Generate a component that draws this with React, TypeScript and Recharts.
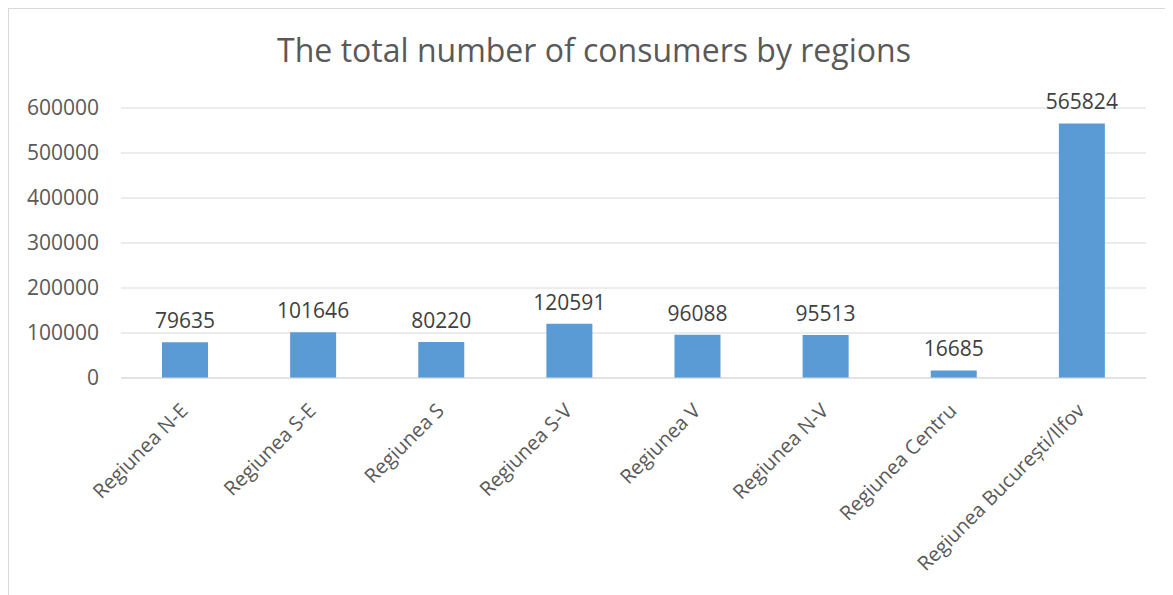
import { BarChart, Bar, XAxis, YAxis, CartesianGrid, LabelList } from 'recharts';

const regions = [
  'Regiunea N-E',
  'Regiunea S-E',
  'Regiunea S',
  'Regiunea S-V',
  'Regiunea V',
  'Regiunea N-V',
  'Regiunea Centru',
  'Regiunea București/Ilfov',
];
const consumers = [79635, 101646, 80220, 120591, 96088, 95513, 16685, 565824];
const yTicks = [0, 100000, 200000, 300000, 400000, 500000, 600000];

const chartData = regions.map((name, i) => ({ name, value: consumers[i] }));

const FONT = '"Open Sans", sans-serif';

function RegionTick(props: any) {
  const { x, y, payload } = props;
  const tx = x + 4;
  const ty = y + 26;
  return (
    <text
      x={tx}
      y={ty}
      transform={`rotate(-45, ${tx}, ${ty})`}
      textAnchor="end"
      fill="#595959"
      fontSize={20}
      fontFamily={FONT}
    >
      {payload.value}
    </text>
  );
}

export default function App() {
  return (
    <div
      style={{
        position: 'relative',
        width: 1165,
        height: 587,
        borderLeft: '1px solid #d9d9d9',
        borderTop: '1px solid #d9d9d9',
        boxSizing: 'border-box',
        fontFamily: FONT,
      }}
    >
      <div
        style={{
          position: 'absolute',
          left: 0,
          top: 19,
          width: 1170,
          textAlign: 'center',
          fontSize: 32,
          color: '#595959',
        }}
      >
        The total number of consumers by regions
      </div>
      <BarChart
        width={1164}
        height={586}
        data={chartData}
        margin={{ top: 99, right: 27, left: 0, bottom: 0 }}
        barCategoryGap="32%"
      >
        <CartesianGrid vertical={false} stroke="#d9d9d9" />
        <XAxis
          dataKey="name"
          interval={0}
          height={217}
          tickLine={false}
          axisLine={{ stroke: '#d9d9d9' }}
          tick={<RegionTick />}
        />
        <YAxis
          domain={[0, 600000]}
          ticks={yTicks}
          width={112}
          tickLine={false}
          axisLine={false}
          tickMargin={16}
          tick={{ fill: '#595959', fontSize: 21, fontFamily: FONT }}
        />
        <Bar dataKey="value" fill="#5b9bd5" isAnimationActive={false}>
          <LabelList
            dataKey="value"
            position="top"
            offset={14}
            fill="#404040"
            fontSize={21}
            fontFamily={FONT}
          />
        </Bar>
      </BarChart>
    </div>
  );
}
